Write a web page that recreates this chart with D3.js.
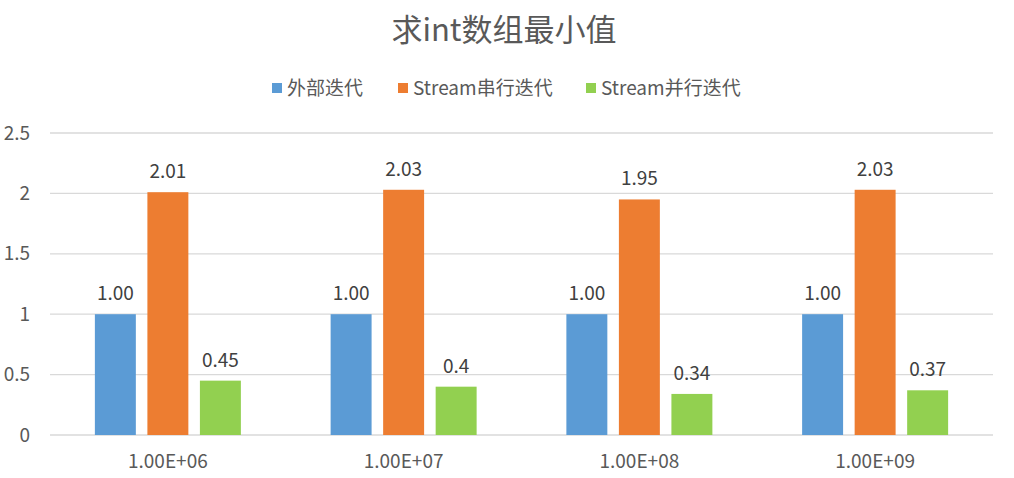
<!DOCTYPE html>
<html><head><meta charset="utf-8">
<script src="https://cdn.jsdelivr.net/npm/d3@7"></script>
<style>
body{margin:0;background:#fff;}
text{font-family:"Noto Sans CJK SC","Noto Sans",sans-serif;}
</style></head>
<body><svg id="chart" width="1014" height="478"></svg>
<script>
const categories = ["1.00E+06","1.00E+07","1.00E+08","1.00E+09"];
const seriesNames = ["外部迭代","Stream串行迭代","Stream并行迭代"];
const externalIter = [1.00,1.00,1.00,1.00];
const streamSerial = [2.01,2.03,1.95,2.03];
const streamParallel = [0.45,0.4,0.34,0.37];
const labelsExternal = ["1.00","1.00","1.00","1.00"];
const labelsSerial = ["2.01","2.03","1.95","2.03"];
const labelsParallel = ["0.45","0.4","0.34","0.37"];
const yTicks = [0,0.5,1,1.5,2,2.5];
const colors = ["#5b9bd5","#ed7d31","#92d050"];

const series = [
  {name:seriesNames[0], values:externalIter, labels:labelsExternal, color:colors[0]},
  {name:seriesNames[1], values:streamSerial, labels:labelsSerial, color:colors[1]},
  {name:seriesNames[2], values:streamParallel, labels:labelsParallel, color:colors[2]}
];

const svg = d3.select("#chart");
const plotLeft = 50, plotRight = 993, plotTop = 133, plotBottom = 435;

const x = d3.scaleBand().domain(categories).range([plotLeft,plotRight]).padding(0);
const y = d3.scaleLinear().domain([0,2.5]).range([plotBottom,plotTop]);
const groupW = 146;
const inner = d3.scaleBand().domain(d3.range(3)).range([0,groupW]).paddingInner(0.22);

// title
svg.append("text").attr("x",504).attr("y",41).attr("text-anchor","middle")
  .attr("font-size",31).attr("fill","#595959").text("求int数组最小值");

// gridlines
svg.append("g").selectAll("line").data(yTicks).join("line")
  .attr("x1",plotLeft).attr("x2",plotRight).attr("y1",d=>y(d)).attr("y2",d=>y(d))
  .attr("stroke","#d9d9d9").attr("stroke-width",1.3);

// y axis labels
const yAxis = d3.axisLeft(y).tickValues(yTicks).tickSize(0).tickPadding(0).tickFormat(d=>String(d));
const ya = svg.append("g").attr("transform",`translate(30,0)`).call(yAxis);
ya.select(".domain").remove();
ya.selectAll("text").attr("font-size",19).attr("fill","#595959").attr("font-family",'"Noto Sans CJK SC",sans-serif');

// x axis labels
const xAxis = d3.axisBottom(x).tickSize(0).tickPadding(0);
const xa = svg.append("g").attr("transform",`translate(0,${plotBottom+19})`).call(xAxis);
xa.select(".domain").remove();
xa.selectAll("text").attr("font-size",19).attr("fill","#595959").attr("font-family",'"Noto Sans CJK SC",sans-serif');

// bars
series.forEach((s,si)=>{
  const g = svg.append("g");
  g.selectAll("rect").data(categories).join("rect")
    .attr("x",(c)=>x(c)+x.bandwidth()/2-groupW/2+inner(si))
    .attr("y",(c,i)=>y(s.values[i]))
    .attr("width",inner.bandwidth())
    .attr("height",(c,i)=>plotBottom-y(s.values[i]))
    .attr("fill",s.color);
  g.selectAll("text").data(categories).join("text")
    .attr("x",(c)=>x(c)+x.bandwidth()/2-groupW/2+inner(si)+inner.bandwidth()/2)
    .attr("y",(c,i)=>y(s.values[i])-14)
    .attr("text-anchor","middle").attr("font-size",19).attr("fill","#404040")
    .text((c,i)=>s.labels[i]);
});

// legend
const legendPos = [272,398,586];
const lg = svg.append("g");
series.forEach((s,i)=>{
  lg.append("rect").attr("x",legendPos[i]).attr("y",83).attr("width",10).attr("height",10).attr("fill",s.color);
  lg.append("text").attr("x",legendPos[i]+15).attr("y",95).attr("font-size",19).attr("fill","#595959").text(s.name);
});
</script></body></html>
